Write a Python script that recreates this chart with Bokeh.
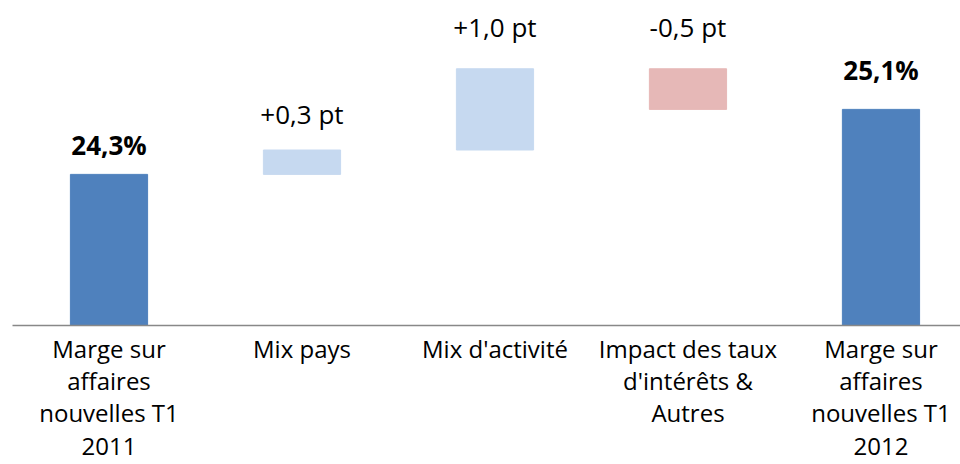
from bokeh.plotting import figure
from bokeh.models import Range1d, FixedTicker, ColumnDataSource
from bokeh.core.properties import value
from bokeh.embed import file_html
from bokeh.resources import INLINE

categories = ["Marge sur\naffaires\nnouvelles T1\n2011", "Mix pays", "Mix d'activité",
              "Impact des taux\nd'intérêts &\nAutres", "Marge sur\naffaires\nnouvelles T1\n2012"]
values = [24.3, 0.3, 1.0, -0.5, 25.1]
kinds = ["total", "delta", "delta", "delta", "total"]
labels = ["24,3%", "+0,3 pt", "+1,0 pt", "-0,5 pt", "25,1%"]

# styling: pixel gap between bar top and its label
LABEL_GAP = [29, 36, 42, 42, 39]

Y0 = 22.44
C_TOTAL = "#4F81BD"
C_POS = "#C6D9F0"
C_NEG = "#E6B8B7"
FONT = "Open Sans"

xs, bottoms, tops, colors = [], [], [], []
run = 0.0
for i, (v, k) in enumerate(zip(values, kinds)):
    xs.append(i)
    if k == "total":
        bottoms.append(Y0)
        tops.append(v)
        colors.append(C_TOTAL)
        run = v
    else:
        b, t = run, run + v
        bottoms.append(min(b, t))
        tops.append(max(b, t))
        colors.append(C_POS if v >= 0 else C_NEG)
        run = t

src = ColumnDataSource(dict(x=xs, bottom=bottoms, top=tops, color=colors))


def label_src(sel):
    idx = [i for i, k in enumerate(kinds) if sel(k)]
    return ColumnDataSource(dict(x=[xs[i] for i in idx], y=[tops[i] for i in idx],
                                 label=[labels[i] for i in idx],
                                 off=[-LABEL_GAP[i] for i in idx]))


tot = label_src(lambda k: k == "total")
dlt = label_src(lambda k: k != "total")

p = figure(width=960, height=464, output_backend="svg", toolbar_location=None,
           x_range=Range1d(-0.5, 4.412), y_range=Range1d(Y0, 26.44),
           min_border_left=12, min_border_right=0, min_border_top=0, min_border_bottom=139)
p.outline_line_color = None
p.grid.visible = False
p.yaxis.visible = False
p.background_fill_color = "white"
p.border_fill_color = "white"

p.vbar(x="x", bottom="bottom", top="top", width=0.4, color="color", source=src)

p.text(x="x", y="y", text="label", source=tot, text_align="center",
       text_baseline="alphabetic", y_offset="off", text_font=value(FONT),
       text_font_size="26px", text_font_style="bold", text_color="black")
p.text(x="x", y="y", text="label", source=dlt, text_align="center",
       text_baseline="alphabetic", y_offset="off", text_font=value(FONT),
       text_font_size="26px", text_color="black")

ax = p.xaxis[0]
ax.ticker = FixedTicker(ticks=xs)
ax.major_label_overrides = {i: c for i, c in enumerate(categories)}
ax.major_tick_line_color = None
ax.minor_tick_line_color = None
ax.major_tick_out = 0
ax.major_tick_in = 0
ax.axis_line_color = "#888888"
ax.axis_line_width = 1.5
ax.major_label_standoff = 6
ax.major_label_text_font = FONT
ax.major_label_text_font_size = "24px"
ax.major_label_text_color = "black"
ax.major_label_text_line_height = 0.98

open("out.html", "w").write(file_html(p, INLINE))
